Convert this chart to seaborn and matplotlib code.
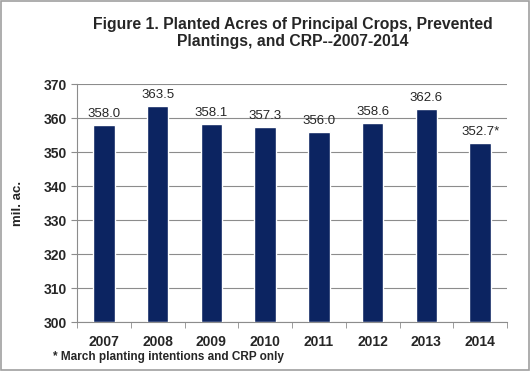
import seaborn as sns
import matplotlib.pyplot as plt
import pandas as pd

years = ['2007', '2008', '2009', '2010', '2011', '2012', '2013', '2014']
acres = [358.0, 363.5, 358.1, 357.3, 356.0, 358.6, 362.6, 352.7]
labels = ['358.0', '363.5', '358.1', '357.3', '356.0', '358.6', '362.6', '352.7*']

df = pd.DataFrame({'year': years, 'acres': acres})

sns.set_style('white')
plt.rcParams['font.family'] = ['Liberation Sans', 'DejaVu Sans']

fig = plt.figure(figsize=(5.31, 3.71), dpi=100)
ax = fig.add_axes([77 / 531, 1 - 322 / 371, 430 / 531, 238 / 371])

sns.barplot(data=df, x='year', y='acres', color='#0c2461', width=0.4,
            saturation=1, ax=ax, zorder=3)
# bars start from 300, not 0
for p in ax.patches:
    p.set_y(300)
    p.set_height(p.get_height() - 300)

ax.set_ylim(300, 370)
ax.set_yticks(range(300, 371, 10))
ax.set_xlim(-0.5, 7.5)
ax.yaxis.grid(True, color='#8c8c8c', lw=0.8, zorder=0)
ax.set_xlabel('')
ax.set_ylabel('mil. ac.', fontsize=9.5, fontweight='bold', labelpad=14)

for s in ['top', 'right']:
    ax.spines[s].set_visible(False)
for s in ['left', 'bottom']:
    ax.spines[s].set_color('#8c8c8c')
    ax.spines[s].set_linewidth(0.8)

ax.tick_params(axis='y', left=True, length=4, color='#8c8c8c', labelsize=10)
ax.set_xticks(range(8))
ax.set_xticks([i + 0.5 for i in range(-1, 8)], minor=True)
ax.tick_params(axis='x', which='major', bottom=False, labelsize=10, pad=6)
ax.tick_params(axis='x', which='minor', bottom=True, length=4, color='#8c8c8c')
for t in ax.get_xticklabels() + ax.get_yticklabels():
    t.set_fontweight('bold')

for i, (v, lab) in enumerate(zip(acres, labels)):
    ax.text(i, v + 1.5, lab, ha='center', va='bottom', fontsize=9.5)

fig.text(293 / 531, 1 - 33 / 371, 'Figure 1. Planted Acres of Principal Crops, Prevented\nPlantings, and CRP--2007-2014',
         ha='center', va='center', fontsize=11.3, fontweight='bold', linespacing=1.2)
fig.text(53 / 531, 1 - 357 / 371, '* March planting intentions and CRP only',
         ha='left', va='center', fontsize=8.5, fontweight='bold')

fig.patches.append(plt.Rectangle((0.002, 0.003), 0.995, 0.994, transform=fig.transFigure,
                                 fill=False, edgecolor='#a0a0a0', lw=1.2))

fig.savefig('out.png', dpi=100)
